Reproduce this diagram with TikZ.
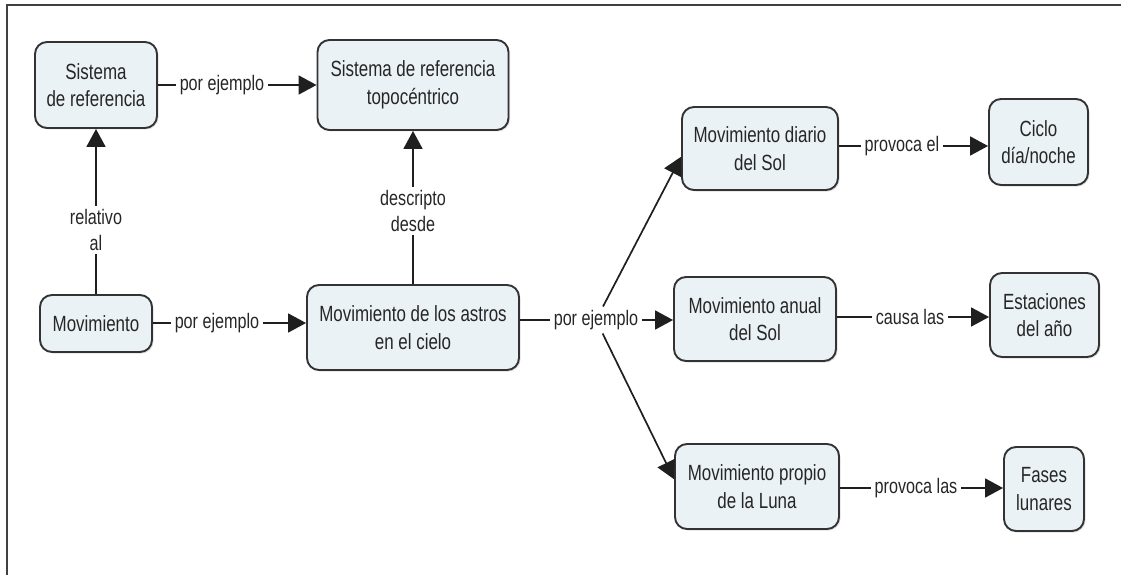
\documentclass[tikz,border=0pt]{standalone}
\usepackage{fontspec}
\setmainfont{Liberation Sans}[FakeStretch=0.77]
\usetikzlibrary{arrows.meta,shadows}
\definecolor{boxfill}{HTML}{EBF2F6}
\definecolor{boxline}{HTML}{333333}
\definecolor{txt}{HTML}{262626}
\begin{document}
\begin{tikzpicture}[x=1pt,y=-1pt,
  concept/.style={draw=boxline, line width=1.9pt, fill=boxfill, rounded corners=12pt,
    align=center, font=\fontsize{22}{27.5}\selectfont, text=txt, inner sep=0pt,
    drop shadow={shadow xshift=1.5pt,shadow yshift=-1.5pt,opacity=0.25}},
  lbl/.style={font=\fontsize{21}{26}\selectfont, text=txt, inner sep=3.5pt, align=center},
  conn/.style={line width=1.7pt, draw=black!88},
  arr/.style={conn, -{Triangle[length=18pt,width=19pt]}}
]
\useasboundingbox (0,0) rectangle (1121,575);
\draw[line width=2pt, draw=black!75] (1121,5) -- (7,5) -- (7,575);

% concepts
\node[concept, minimum width=122pt, minimum height=86pt] (sr) at (96,85) {Sistema\\de referencia};
\node[concept, minimum width=191pt, minimum height=90pt] (topo) at (413,85) {Sistema de referencia\\topocéntrico};
\node[concept, minimum width=112pt, minimum height=57pt] (mov) at (96,323.5) {Movimiento};
\node[concept, minimum width=212pt, minimum height=85pt] (astros) at (413,327.5) {Movimiento de los astros\\en el cielo};
\node[concept, minimum width=156pt, minimum height=83pt] (diario) at (760,148.5) {Movimiento diario\\del Sol};
\node[concept, minimum width=99pt, minimum height=86pt] (ciclo) at (1038.5,142) {Ciclo\\día/noche};
\node[concept, minimum width=162pt, minimum height=84pt] (anual) at (755,319) {Movimiento anual\\del Sol};
\node[concept, minimum width=109pt, minimum height=84pt] (estac) at (1044.5,315) {Estaciones\\del año};
\node[concept, minimum width=164pt, minimum height=85pt] (propio) at (757,486.5) {Movimiento propio\\de la Luna};
\node[concept, minimum width=80pt, minimum height=84pt] (fases) at (1044,489) {Fases\\lunares};

% labels
\node[lbl] (l1) at (222,85) {por ejemplo};
\node[lbl] (l2) at (96,230) {relativo\\al};
\node[lbl] (l3) at (413,211) {descripto\\desde};
\node[lbl] (l4) at (217,323) {por ejemplo};
\node[lbl] (l5) at (596,320) {por ejemplo};
\node[lbl] (l6) at (902,146) {provoca el};
\node[lbl] (l7) at (910,317) {causa las};
\node[lbl] (l8) at (916,488) {provoca las};

% connectors
\draw[conn] (sr.east |- l1) -- (l1.west);
\draw[arr] (l1.east) -- (topo.west |- l1);
\draw[conn] (mov.north) -- (l2.south);
\draw[arr] (l2.north) -- (sr.south);
\draw[conn] (astros.north) -- (l3.south);
\draw[arr] (l3.north) -- (topo.south);
\draw[conn] (mov.east |- l4) -- (l4.west);
\draw[arr] (l4.east) -- (astros.west |- l4);
\draw[conn] (astros.east |- l5) -- (l5.west);
\draw[arr] (l5) -- (diario.186);
\draw[arr] (l5.east) -- (anual.west |- l5);
\draw[arr] (l5) -- (propio.175.5);
\draw[conn] (diario.east |- l6) -- (l6.west);
\draw[arr] (l6.east) -- (ciclo.west |- l6);
\draw[conn] (anual.east |- l7) -- (l7.west);
\draw[arr] (l7.east) -- (estac.west |- l7);
\draw[conn] (propio.east |- l8) -- (l8.west);
\draw[arr] (l8.east) -- (fases.west |- l8);
\end{tikzpicture}
\end{document}
